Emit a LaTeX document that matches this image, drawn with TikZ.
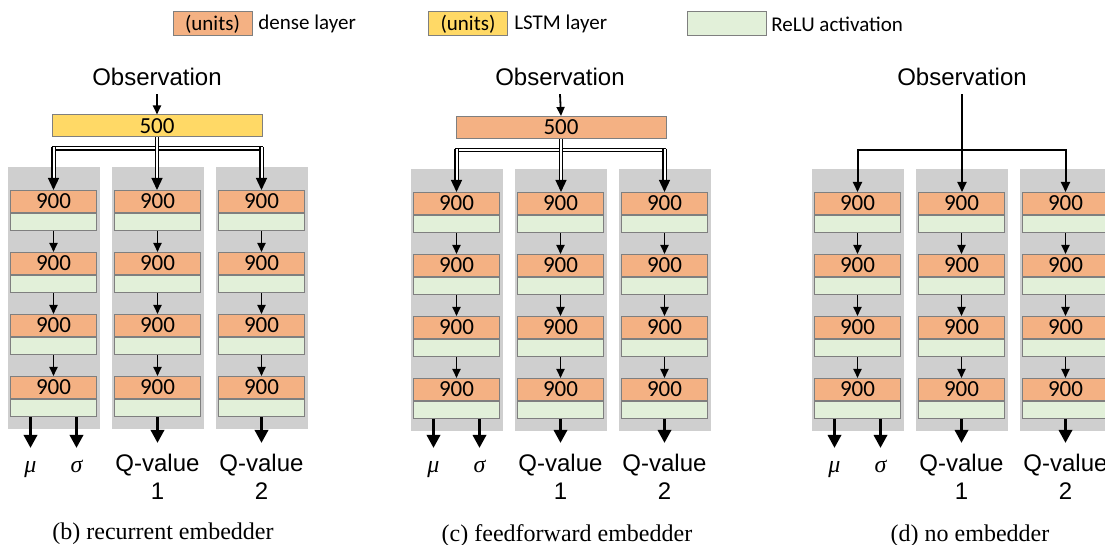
\documentclass[tikz,border=0pt]{standalone}
\usepackage{fontspec}
\setmainfont{Liberation Serif}
\newfontfamily\carl{Carlito}
\newfontfamily\arial{Liberation Sans}
\usetikzlibrary{arrows.meta}
\definecolor{denseC}{HTML}{F4B183}
\definecolor{lstmC}{HTML}{FFD966}
\definecolor{reluC}{HTML}{E2F0D9}
\definecolor{colG}{HTML}{CFCFCF}
\definecolor{edgeG}{HTML}{7F7F7F}
\tikzset{
 dense/.style={draw=edgeG, line width=0.5pt, fill=denseC, minimum width=43pt, minimum height=11pt, inner sep=0pt, font=\carl\fontsize{11.5}{12}\selectfont},
 lstm/.style={dense, fill=lstmC},
 relu/.style={draw=edgeG, line width=0.5pt, fill=reluC, minimum width=43pt, minimum height=8.5pt, inner sep=0pt},
 legbox/.style={draw=edgeG, line width=0.5pt, minimum width=39.5pt, minimum height=12pt, inner sep=0pt, font=\carl\fontsize{10.5}{12}\selectfont},
 legtxt/.style={anchor=west, inner sep=0pt, font=\carl\fontsize{10.5}{12}\selectfont},
 smallarr/.style={line width=0.9pt, -{Triangle[width=4pt,length=4.5pt]}},
 bigarr/.style={line width=1.6pt, -{Triangle[width=6.5pt,length=6.5pt]}},
 dbl/.style={draw=black, double=white, double distance=1pt, line width=0.65pt},
 dblarr/.style={dbl, -{Triangle[width=5.5pt,length=6pt]}},
 brarr/.style={line width=1pt, -{Triangle[width=4.5pt,length=5pt]}},
 obs/.style={font=\arial\fontsize{12}{14}\selectfont, inner sep=0pt},
 qlbl/.style={font=\arial\fontsize{12}{14}\selectfont, inner sep=0pt, align=center, anchor=north},
 greek/.style={font=\itshape\fontsize{12}{14}\selectfont, inner sep=0pt, anchor=base},
 capt/.style={font=\fontsize{12}{14}\selectfont, inner sep=0pt, anchor=base},
}
\begin{document}
\begin{tikzpicture}[x=0.5pt,y=-0.5pt]
\useasboundingbox (0,0) rectangle (1105,545);
\clip (0,0) rectangle (1105,545);
% legend
\node[legbox, fill=denseC] (lg1) at (212.5,24) {(units)};
\node[legtxt] (lg1t) at (258,24) {dense layer};
\node[legbox, fill=lstmC] (lg2) at (468,24) {(units)};
\node[legtxt] (lg2t) at (514,24) {LSTM layer};
\node[legbox, fill=reluC] (lg3) at (727,24) {};
\node[legtxt] (lg3t) at (771,24) {ReLU activation};
% columns
\foreach \p/\cxa/\yo/\capx/\capy/\cap in {b/53.5/190/163/540/{(b) recurrent embedder}, c/456.5/192/567/542/{(c) feedforward embedder}, d/857.5/192/970/542/{(d) no embedder}} {
  \foreach \k in {1,2,3} {
    \pgfmathsetmacro\cx{\cxa+104*(\k-1)}
    \fill[colG] (\cx-46,\yo-22.5) rectangle (\cx+46,\yo+239.5);
    \foreach \j in {1,...,4} {
      \pgfmathsetmacro\yy{\yo+62*(\j-1)}
      \node[dense, anchor=north] (\p\k d\j) at (\cx,\yy) {900};
      \node[relu, anchor=north] (\p\k r\j) at (\p\k d\j.south) {};
    }
    \foreach \j [count=\n from 2] in {1,2,3}
      \draw[smallarr] (\p\k r\j.south) -- (\p\k d\n.north);
  }
  \pgfmathsetmacro\cxb{\cxa+104}
  \pgfmathsetmacro\cxc{\cxa+208}
  % outputs
  \coordinate (\p mu) at (\cxa-23,448);
  \coordinate (\p sg) at (\cxa+23,448);
  \coordinate (\p qa) at (\cxb,443);
  \coordinate (\p qb) at (\cxc,443);
  \draw[bigarr] (\p1r4.south -| \p mu) -- (\p mu);
  \draw[bigarr] (\p1r4.south -| \p sg) -- (\p sg);
  \draw[bigarr] (\p2r4.south) -- (\p qa);
  \draw[bigarr] (\p3r4.south) -- (\p qb);
  \node[greek] (\p mut) at (\cxa-23,473) {μ};
  \node[greek] (\p sgt) at (\cxa+23,473) {σ};
  \node[qlbl] (\p qat) at (\cxb,454) {Q-value\\1};
  \node[qlbl] (\p qbt) at (\cxc,454) {Q-value\\2};
  \node[capt] (\p cap) at (\capx,\capy) {\cap};
}
% panel b top
\node[obs] (bobs) at (157,77) {Observation};
\node[lstm, minimum width=105pt] (bemb) at (157,126) {500};
\draw[smallarr] ([yshift=-4pt]bobs.south) -- (bemb.north);
\coordinate (bL) at (51.8,148.5);
\coordinate (bR) at (263.2,148.5);
\coordinate (bT) at (0,147.2);
\draw[dbl] (bL) -- (bR);
\draw[dblarr] (b1d1.north |- bT) -- (b1d1.north);
\draw[dblarr] (bemb.south) -- (bemb.south |- b2d1.north);
\draw[dblarr] (b3d1.north |- bT) -- (b3d1.north);
% panel c top
\node[obs] (cobs) at (560,77) {Observation};
\node[dense, minimum width=105pt] (cemb) at (561,127.5) {500};
\draw[smallarr] ([yshift=-4pt]cobs.south) -- (cemb.north);
\coordinate (cL) at (454.8,150);
\coordinate (cR) at (666.2,150);
\coordinate (cT) at (0,148.7);
\draw[dbl] (cL) -- (cR);
\draw[dblarr] (c1d1.north |- cT) -- (c1d1.north);
\draw[dblarr] (cemb.south) -- (cemb.south |- c2d1.north);
\draw[dblarr] (c3d1.north |- cT) -- (c3d1.north);
% panel d top
\node[obs] (dobs) at (962,77) {Observation};
\coordinate (dH) at (961.5,150);
\draw[brarr] ([yshift=-4pt]dobs.south) -- (dobs.south |- d2d1.north);
\draw[brarr] (dH) -| (d1d1.north);
\draw[brarr] (dH) -| (d3d1.north);
\end{tikzpicture}
\end{document}
